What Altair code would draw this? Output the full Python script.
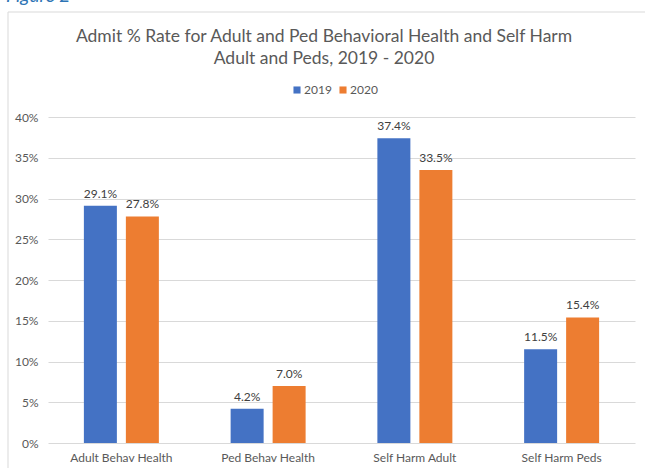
import altair as alt
import pandas as pd

categories = ["Adult Behav Health", "Ped Behav Health", "Self Harm Adult", "Self Harm Peds"]
years = ["2019", "2020"]
rate_2019 = [29.1, 4.2, 37.4, 11.5]
rate_2020 = [27.8, 7.0, 33.5, 15.4]
y_ticks = [0, 5, 10, 15, 20, 25, 30, 35, 40]
title_lines = ["Admit % Rate for Adult and Ped Behavioral Health and Self Harm",
               "Adult and Peds, 2019 - 2020"]

rows = []
for c, a, b in zip(categories, rate_2019, rate_2020):
    rows.append({"cat": c, "year": "2019", "rate": a / 100})
    rows.append({"cat": c, "year": "2020", "rate": b / 100})
df = pd.DataFrame(rows)

FONT = "Lato"
GRAY = "#595959"

x = alt.X("cat:N", sort=categories, title=None,
          scale=alt.Scale(paddingInner=0.489, paddingOuter=0.2445),
          axis=alt.Axis(labelAngle=0, labelPadding=9, ticks=False, domain=False, grid=False,
                        labelColor=GRAY, labelFontSize=12, labelFont=FONT))
xoff = alt.XOffset("year:N", sort=years,
                   scale=alt.Scale(paddingInner=0.214, paddingOuter=0))
y = alt.Y("rate:Q", title=None,
          scale=alt.Scale(domain=[0, 0.4], nice=False),
          axis=alt.Axis(values=[v / 100 for v in y_ticks], format=".0%", domain=False,
                        ticks=False, gridColor="#D9D9D9", labelColor=GRAY,
                        labelFontSize=12, labelPadding=10, labelFont=FONT))
color = alt.Color("year:N", sort=years,
                  scale=alt.Scale(domain=years, range=["#4472C4", "#ED7D31"]),
                  legend=alt.Legend(title=None, orient="none", direction="horizontal",
                                    legendX=243, legendY=-33, symbolType="square",
                                    symbolSize=50, symbolStrokeWidth=0,
                                    labelFontSize=12, labelColor=GRAY, labelFont=FONT,
                                    labelOffset=1, columnPadding=5))

base = alt.Chart(df)
bars = base.mark_bar().encode(x=x, xOffset=xoff, y=y, color=color)
labels = base.mark_text(dy=-8, baseline="alphabetic", fontSize=12, font=FONT,
                        color="#404040").encode(
    x=x, xOffset=xoff, y=y, text=alt.Text("rate:Q", format=".1%"))

frame_top = alt.Chart(alt.Data(values=[{}])).mark_rule(
    color="#D9D9D9", strokeWidth=1).encode(
    x=alt.value(-40), x2=alt.value(720), y=alt.value(-105))
frame_left = alt.Chart(alt.Data(values=[{}])).mark_rule(
    color="#D9D9D9", strokeWidth=1).encode(
    x=alt.value(-40), y=alt.value(-105), y2=alt.value(520))
fig = alt.Chart(alt.Data(values=[{}])).mark_text(
    text="Figure 2", fontStyle="italic", fontSize=19, font=FONT, color="#2E74B5",
    align="left", baseline="alphabetic").encode(x=alt.value(-42), y=alt.value(-115))
title = alt.Chart(alt.Data(values=[{}])).mark_text(
    text=title_lines, fontSize=17.5, font=FONT, color=GRAY, lineHeight=22,
    align="center", baseline="alphabetic").encode(x=alt.value(276), y=alt.value(-75))

chart = alt.layer(frame_top, frame_left, fig, title, bars, labels).properties(
    width=587, height=326,
    autosize=alt.AutoSizeParams(type="none"),
    padding={"left": 48, "top": 117, "right": 10, "bottom": 25},
).configure_view(stroke="transparent")

chart.save("out.html", embed_options={"renderer": "svg", "actions": False})
